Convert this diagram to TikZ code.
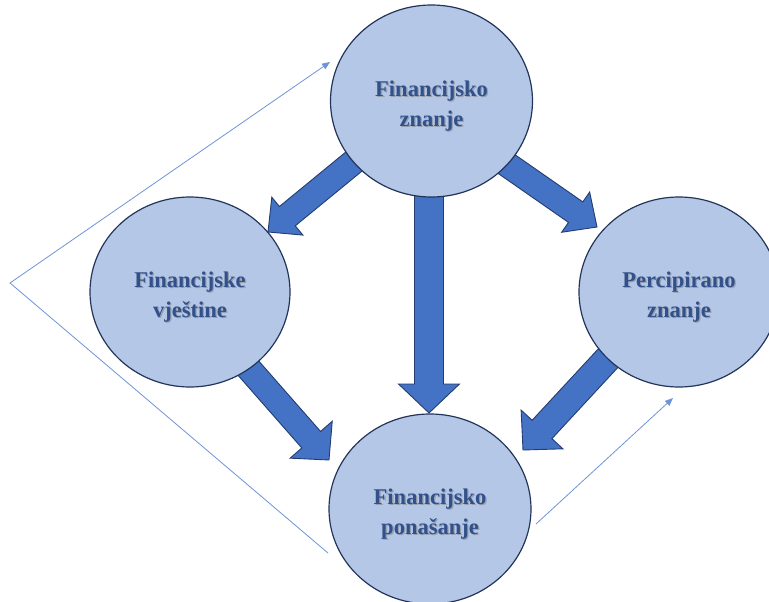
\documentclass[tikz,border=0pt]{standalone}
\usepackage{fontspec}
\setmainfont{Liberation Serif}
\usetikzlibrary{calc,shapes.geometric,arrows.meta}
\definecolor{circfill}{HTML}{B4C7E7}
\definecolor{circline}{RGB}{34,52,90}
\definecolor{arrfill}{HTML}{4472C4}
\definecolor{arrline}{RGB}{36,60,110}
\definecolor{txtc}{RGB}{50,80,138}
\definecolor{shadc}{RGB}{150,160,175}
\definecolor{thinc}{RGB}{110,148,215}
\newcommand\shtx[1]{\leavevmode\rlap{\kern1.3pt\raisebox{-1.3pt}{\textcolor{shadc}{#1}}}#1}
\newcommand\bubtext[2]{\raisebox{-4.5pt}[\height][\depth]{\begin{tabular}{@{}c@{}}\shtx{#1}\\\shtx{#2}\end{tabular}}}
\newcommand\blockarr[5]{%
  \path ($(#2)!#5!(#1)$) coordinate (hb);
  \draw[blockarrow] ($(#1)!#3!90:(#2)$) -- ($(hb)!#3!90:(#2)$) -- ($(hb)!#4!90:(#2)$) -- (#2)
    -- ($(hb)!#4!-90:(#2)$) -- ($(hb)!#3!-90:(#2)$) -- ($(#1)!#3!-90:(#2)$) -- cycle;}
\tikzset{
  bubble/.style={ellipse, draw=circline, line width=1.2pt, fill=circfill,
    inner sep=0pt, text=txtc,
    font=\fontsize{22.5}{30}\selectfont\bfseries},
  blockarrow/.style={draw=arrline, fill=arrfill, line width=0.9pt, line join=miter},
  thinarrow/.style={draw=thinc, line width=0.8pt, -{Triangle[length=8pt,width=6.5pt]}}
}
\begin{document}
\begin{tikzpicture}[x=1pt,y=-1pt]
\useasboundingbox (0,0) rectangle (769,602);
% coordinates
\coordinate (p0) at (328,553);
\coordinate (p1) at (10,283);
\coordinate (p2) at (330,62);
\coordinate (q0) at (536,524);
\coordinate (q1) at (673,398);
\coordinate (a1s) at (368,150);
\coordinate (a1e) at (268,232);
\coordinate (a2s) at (429,150);
\coordinate (a2e) at (429,413);
\coordinate (a3s) at (482,147);
\coordinate (a3e) at (597,227);
\coordinate (a4s) at (243,362);
\coordinate (a4e) at (329,460);
\coordinate (a5s) at (611,355);
\coordinate (a5e) at (523,450);
% thin connectors
\draw[thinarrow] (p0) -- (p1) -- (p2);
\draw[thinarrow] (q0) -- (q1);
% block arrows
\blockarr{a1s}{a1e}{12.5pt}{24.5pt}{25pt}
\blockarr{a2s}{a2e}{14.5pt}{30.5pt}{29pt}
\blockarr{a3s}{a3e}{12.5pt}{24.5pt}{26pt}
\blockarr{a4s}{a4e}{12.5pt}{28pt}{27pt}
\blockarr{a5s}{a5e}{13.5pt}{28.5pt}{28pt}
% circles
\node[bubble, minimum width=202pt, minimum height=192pt] (top) at (431.5,101)
  {\bubtext{Financijsko}{znanje}};
\node[bubble, minimum width=200pt, minimum height=190pt] (left) at (190,292)
  {\bubtext{Financijske}{vje\v{s}tine}};
\node[bubble, minimum width=200pt, minimum height=190pt] (right) at (679,292)
  {\bubtext{Percipirano}{znanje}};
\node[bubble, minimum width=202pt, minimum height=190pt] (bot) at (430,509)
  {\bubtext{Financijsko}{pona\v{s}anje}};
\end{tikzpicture}
\end{document}
